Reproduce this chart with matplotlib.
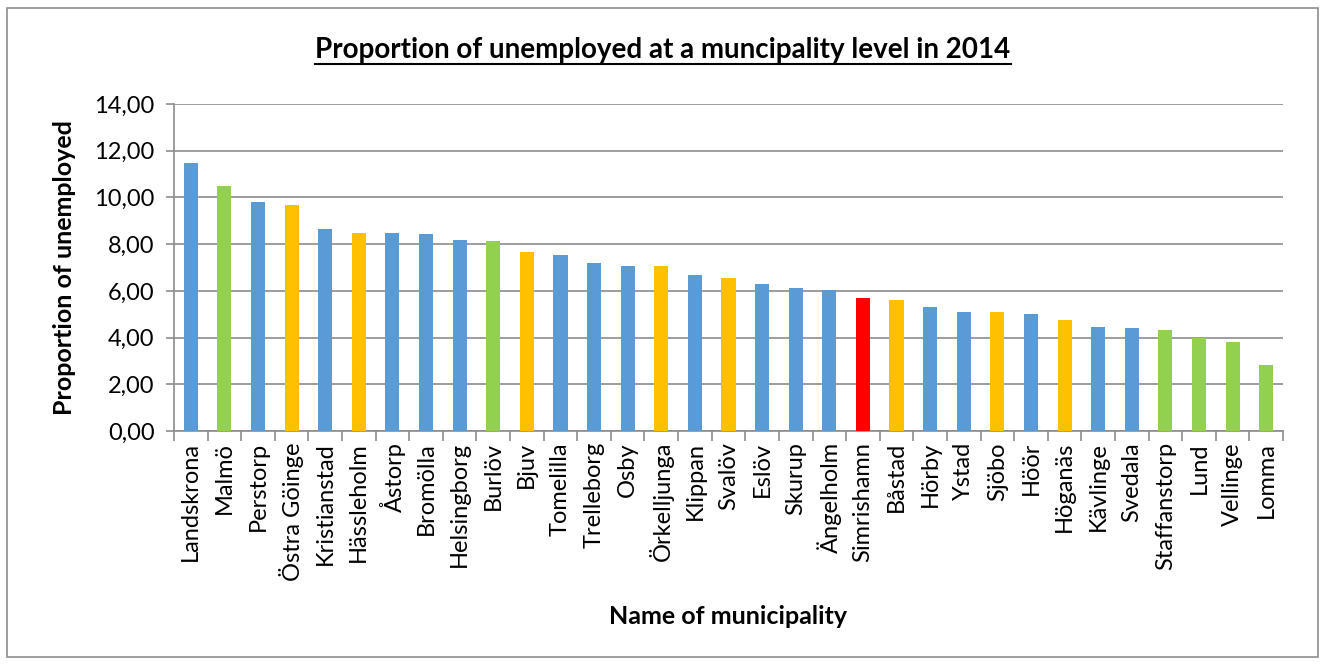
import matplotlib
matplotlib.use("Agg")
import matplotlib.pyplot as plt
from matplotlib.lines import Line2D
from matplotlib.patches import Rectangle
from matplotlib.ticker import FuncFormatter, FixedLocator

plt.rcParams['font.family'] = ['Lato', 'DejaVu Sans']

municipalities = ['Landskrona', 'Malmö', 'Perstorp', 'Östra Göinge', 'Kristianstad',
                  'Hässleholm', 'Åstorp', 'Bromölla', 'Helsingborg', 'Burlöv', 'Bjuv',
                  'Tomelilla', 'Trelleborg', 'Osby', 'Örkelljunga', 'Klippan', 'Svalöv',
                  'Eslöv', 'Skurup', 'Ängelholm', 'Simrishamn', 'Båstad', 'Hörby', 'Ystad',
                  'Sjöbo', 'Höör', 'Höganäs', 'Kävlinge', 'Svedala', 'Staffanstorp',
                  'Lund', 'Vellinge', 'Lomma']
unemployed = [11.49, 10.50, 9.79, 9.69, 8.66, 8.49, 8.48, 8.45, 8.19, 8.14, 7.67,
              7.54, 7.19, 7.07, 7.07, 6.67, 6.53, 6.31, 6.14, 6.04, 5.71, 5.62, 5.33,
              5.11, 5.08, 5.03, 4.74, 4.44, 4.43, 4.33, 4.00, 3.80, 2.82]
# group of each municipality (decides bar colour)
group = ['b', 'g', 'b', 'o', 'b', 'o', 'b', 'b', 'b', 'g', 'o',
         'b', 'b', 'b', 'o', 'b', 'o', 'b', 'b', 'b', 'r', 'o', 'b',
         'b', 'o', 'b', 'o', 'b', 'b', 'g', 'g', 'g', 'g']
yticks = [0, 2, 4, 6, 8, 10, 12, 14]

palette = {'b': '#5B9BD5', 'g': '#92D050', 'o': '#FFC000', 'r': '#FF0000'}
colors = [palette[g] for g in group]

W, H = 1325, 664
fig = plt.figure(figsize=(W / 100, H / 100), dpi=100)
fig.patches.append(Rectangle((7 / W, 1 - 657 / H), 1311 / W, 649 / H,
                             transform=fig.transFigure, fill=False,
                             edgecolor='#8c8c8c', linewidth=1.2))

ax = fig.add_axes([174 / W, 1 - 431 / H, (1283 - 174) / W, (431 - 104) / H])
x = range(len(municipalities))
ax.bar(x, unemployed, width=0.42, color=colors, zorder=3)

ax.set_xlim(-0.5, len(municipalities) - 0.5)
ax.set_ylim(0, 14)
ax.set_yticks(yticks)
ax.yaxis.set_major_formatter(FuncFormatter(lambda v, p: ('%.2f' % v).replace('.', ',')))
ax.grid(axis='y', color='#8c8c8c', linewidth=1.2, zorder=0)

ax.set_xticks(list(x))
ax.set_xticklabels(municipalities, rotation=90, fontsize=17)
ax.tick_params(axis='x', length=0, pad=8)
ax.xaxis.set_minor_locator(FixedLocator([i - 0.5 for i in range(len(municipalities) + 1)]))
ax.tick_params(axis='x', which='minor', length=7, color='#8c8c8c', width=1.2)
ax.tick_params(axis='y', labelsize=17, length=6, color='#8c8c8c', width=1.2, pad=8)

for side in ['top', 'right']:
    ax.spines[side].set_visible(False)
ax.spines['left'].set_color('#8c8c8c')
ax.spines['bottom'].set_color('#8c8c8c')
ax.spines['left'].set_linewidth(1.2)
ax.spines['bottom'].set_linewidth(1.2)

fig.text(65 / W, 1 - 268 / H, 'Proportion of unemployed', fontsize=18,
         fontweight='bold', rotation=90, ha='center', va='center')
fig.text(728 / W, 1 - 617 / H, 'Name of municipality', fontsize=18,
         fontweight='bold', ha='center', va='center')

title = fig.text(663 / W, 1 - 50 / H,
                 'Proportion of unemployed at a muncipality level in 2014',
                 fontsize=20, fontweight='bold', ha='center', va='center')
fig.canvas.draw()
bb = title.get_window_extent().transformed(fig.transFigure.inverted())
fig.lines.append(Line2D([bb.x0, bb.x1], [bb.y0 - 0.002, bb.y0 - 0.002],
                        transform=fig.transFigure, color='black', linewidth=1.5))

fig.savefig('out.png', dpi=100)
